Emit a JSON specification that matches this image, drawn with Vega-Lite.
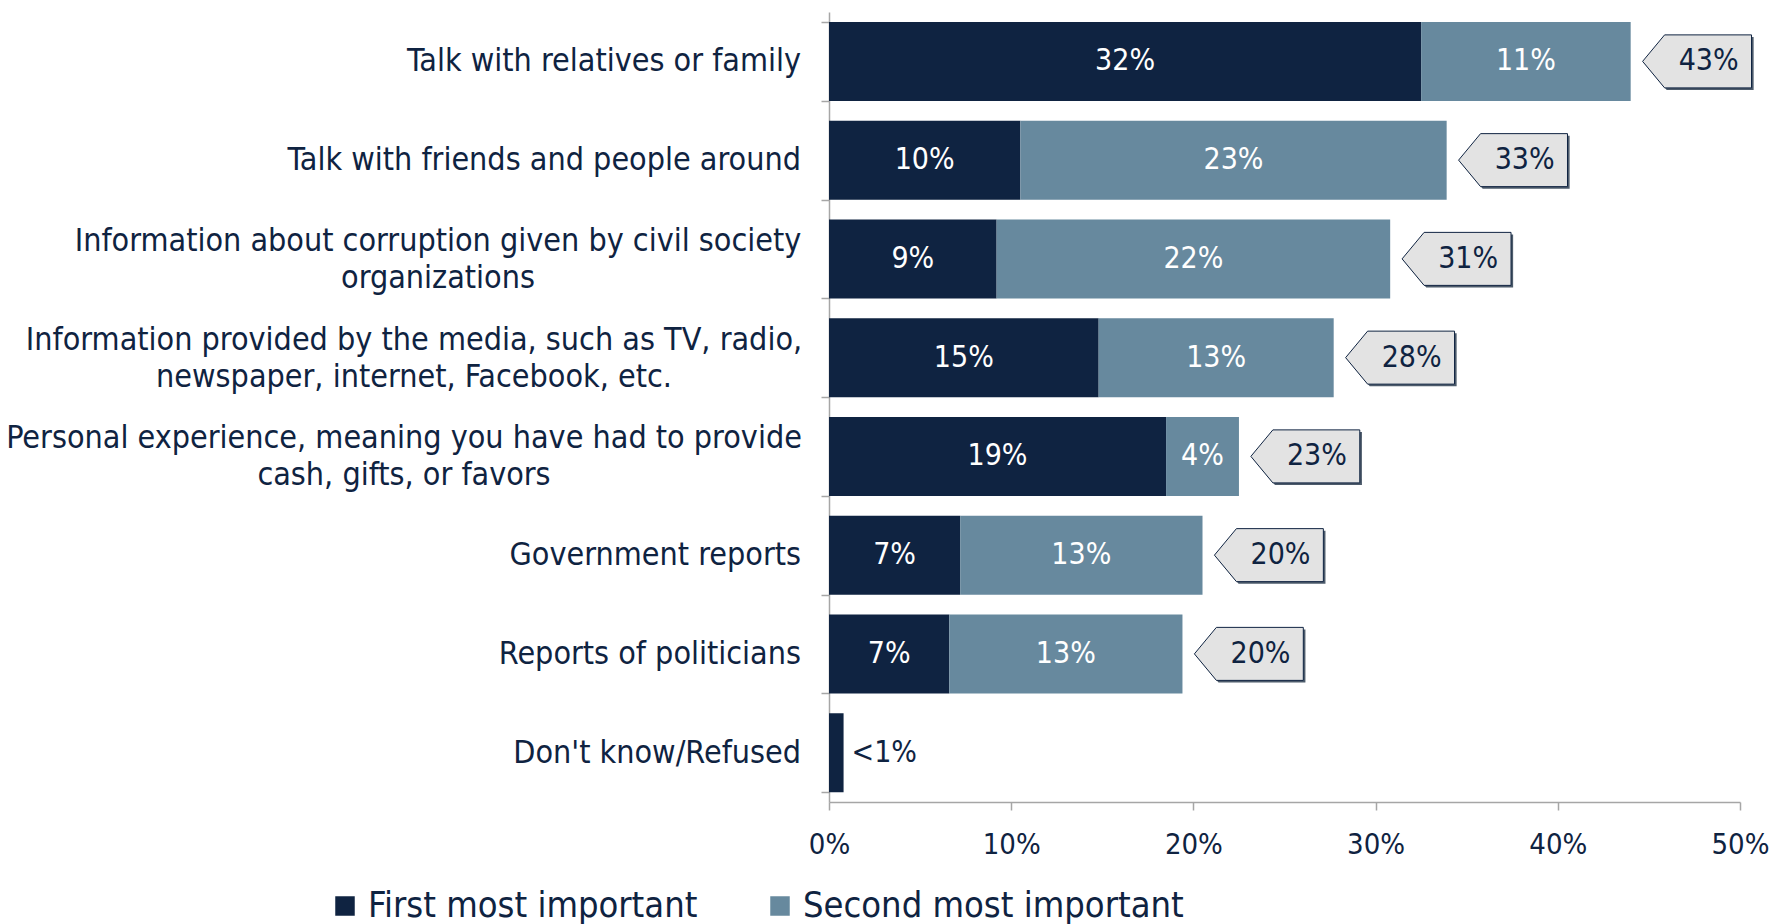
{
  "$schema": "https://vega.github.io/schema/vega-lite/v6.json",
  "width": 911,
  "height": 790,
  "autosize": {"type": "none"},
  "padding": {"left": 829, "top": 12, "right": 34, "bottom": 122},
  "background": "white",
  "config": {
    "view": {"stroke": null},
    "font": "DejaVu Sans Condensed",
    "text": {"font": "DejaVu Sans Condensed"}
  },
  "resolve": {"axis": {"y": "independent"}},
  "data": {
    "values": [
      {"category": "Talk with relatives or family", "series": "First most important", "value": 32.5, "label": "32%", "total": "43%"},
      {"category": "Talk with relatives or family", "series": "Second most important", "value": 11.5, "label": "11%", "total": "43%"},
      {"category": "Talk with friends and people around", "series": "First most important", "value": 10.5, "label": "10%", "total": "33%"},
      {"category": "Talk with friends and people around", "series": "Second most important", "value": 23.4, "label": "23%", "total": "33%"},
      {"category": "Information about corruption given by civil society organizations", "series": "First most important", "value": 9.2, "label": "9%", "total": "31%"},
      {"category": "Information about corruption given by civil society organizations", "series": "Second most important", "value": 21.6, "label": "22%", "total": "31%"},
      {"category": "Information provided by the media, such as TV, radio, newspaper, internet, Facebook, etc.", "series": "First most important", "value": 14.8, "label": "15%", "total": "28%"},
      {"category": "Information provided by the media, such as TV, radio, newspaper, internet, Facebook, etc.", "series": "Second most important", "value": 12.9, "label": "13%", "total": "28%"},
      {"category": "Personal experience, meaning you have had to provide cash, gifts, or favors", "series": "First most important", "value": 18.5, "label": "19%", "total": "23%"},
      {"category": "Personal experience, meaning you have had to provide cash, gifts, or favors", "series": "Second most important", "value": 4.0, "label": "4%", "total": "23%"},
      {"category": "Government reports", "series": "First most important", "value": 7.2, "label": "7%", "total": "20%"},
      {"category": "Government reports", "series": "Second most important", "value": 13.3, "label": "13%", "total": "20%"},
      {"category": "Reports of politicians", "series": "First most important", "value": 6.6, "label": "7%", "total": "20%"},
      {"category": "Reports of politicians", "series": "Second most important", "value": 12.8, "label": "13%", "total": "20%"},
      {"category": "Don't know/Refused", "series": "First most important", "value": 0.8, "label": "<1%", "total": ""}
    ]
  },
  "layer": [
    {
      "mark": {"type": "bar"},
      "encoding": {
        "y": {
          "field": "category",
          "type": "nominal",
          "sort": [
            "Talk with relatives or family",
            "Talk with friends and people around",
            "Information about corruption given by civil society organizations",
            "Information provided by the media, such as TV, radio, newspaper, internet, Facebook, etc.",
            "Personal experience, meaning you have had to provide cash, gifts, or favors",
            "Government reports",
            "Reports of politicians",
            "Don't know/Refused"
          ],
          "scale": {"paddingInner": 0.2, "paddingOuter": 0.1},
          "axis": {
            "title": null,
            "tickBand": "extent",
            "tickSize": 8,
            "tickColor": "#a6a6a6",
            "tickWidth": 1.5,
            "domainColor": "#a6a6a6",
            "domainWidth": 1.5,
            "labels": false
          }
        },
        "x": {
          "field": "value",
          "type": "quantitative",
          "stack": "zero",
          "scale": {"domain": [0, 50], "nice": false},
          "axis": {
            "title": null,
            "values": [0, 10, 20, 30, 40, 50],
            "labelExpr": "datum.value + '%'",
            "grid": false,
            "domainColor": "#a6a6a6",
            "domainWidth": 1.5,
            "tickColor": "#a6a6a6",
            "tickWidth": 1.5,
            "tickSize": 8,
            "labelFontSize": 29,
            "labelColor": "#0f2341",
            "labelPadding": 20,
            "labelFlush": false,
            "labelOverlap": false
          }
        },
        "color": {
          "field": "series",
          "type": "nominal",
          "scale": {"domain": ["First most important", "Second most important"], "range": ["#0f2341", "#67899e"]},
          "legend": {
            "orient": "none",
            "legendX": -502,
            "legendY": 876,
            "direction": "horizontal",
            "title": null,
            "symbolType": "square",
            "symbolSize": 380,
            "symbolStrokeWidth": 0,
            "labelFontSize": 36,
            "labelColor": "#0f2341",
            "labelLimit": 700,
            "labelOffset": 5,
            "columnPadding": 64
          }
        },
        "order": {"field": "series", "type": "nominal"}
      }
    },
    {
      "transform": [{"filter": {"field": "series", "equal": "First most important"}}],
      "mark": {
        "type": "text",
        "fontSize": 32,
        "color": "#0f2341",
        "baseline": "middle",
        "lineHeight": 37,
        "align": {"expr": "indexof(['Information about corruption given by civil society organizations', 'Information provided by the media, such as TV, radio, newspaper, internet, Facebook, etc.', 'Personal experience, meaning you have had to provide cash, gifts, or favors'], datum.category) >= 0 ? 'center' : 'right'"},
        "dx": {"expr": "datum.category == 'Information about corruption given by civil society organizations' ? -391 : datum.category == 'Information provided by the media, such as TV, radio, newspaper, internet, Facebook, etc.' ? -415 : datum.category == 'Personal experience, meaning you have had to provide cash, gifts, or favors' ? -425 : -28"},
        "dy": {"expr": "indexof(['Information about corruption given by civil society organizations', 'Information provided by the media, such as TV, radio, newspaper, internet, Facebook, etc.', 'Personal experience, meaning you have had to provide cash, gifts, or favors'], datum.category) >= 0 ? -18 : 0"},
        "text": {"expr": "datum.category == 'Information about corruption given by civil society organizations' ? ['Information about corruption given by civil society', 'organizations'] : datum.category == 'Information provided by the media, such as TV, radio, newspaper, internet, Facebook, etc.' ? ['Information provided by the media, such as TV, radio,', 'newspaper, internet, Facebook, etc.'] : datum.category == 'Personal experience, meaning you have had to provide cash, gifts, or favors' ? ['Personal experience, meaning you have had to provide', 'cash, gifts, or favors'] : datum.category"}
      },
      "encoding": {
        "y": {"field": "category", "type": "nominal", "axis": null, "sort": [
            "Talk with relatives or family",
            "Talk with friends and people around",
            "Information about corruption given by civil society organizations",
            "Information provided by the media, such as TV, radio, newspaper, internet, Facebook, etc.",
            "Personal experience, meaning you have had to provide cash, gifts, or favors",
            "Government reports",
            "Reports of politicians",
            "Don't know/Refused"
          ]},
        "x": {"datum": 0, "type": "quantitative"}
      }
    },
    {
      "transform": [{"filter": {"not": {"field": "category", "equal": "Don't know/Refused"}}}],
      "mark": {"type": "text", "fontSize": 30, "color": "white", "align": "center", "baseline": "middle"},
      "encoding": {
        "y": {"field": "category", "type": "nominal", "axis": null, "sort": [
            "Talk with relatives or family",
            "Talk with friends and people around",
            "Information about corruption given by civil society organizations",
            "Information provided by the media, such as TV, radio, newspaper, internet, Facebook, etc.",
            "Personal experience, meaning you have had to provide cash, gifts, or favors",
            "Government reports",
            "Reports of politicians",
            "Don't know/Refused"
          ]},
        "x": {"field": "value", "type": "quantitative", "stack": "zero", "bandPosition": 0.5},
        "detail": {"field": "series", "type": "nominal"},
        "order": {"field": "series", "type": "nominal"},
        "text": {"field": "label"}
      }
    },
    {
      "transform": [{"filter": {"field": "category", "equal": "Don't know/Refused"}}],
      "mark": {"type": "text", "fontSize": 30, "color": "#0f2341", "align": "left", "baseline": "middle", "dx": 8},
      "encoding": {
        "y": {"field": "category", "type": "nominal", "axis": null, "sort": [
            "Talk with relatives or family",
            "Talk with friends and people around",
            "Information about corruption given by civil society organizations",
            "Information provided by the media, such as TV, radio, newspaper, internet, Facebook, etc.",
            "Personal experience, meaning you have had to provide cash, gifts, or favors",
            "Government reports",
            "Reports of politicians",
            "Don't know/Refused"
          ]},
        "x": {"field": "value", "type": "quantitative"},
        "text": {"field": "label"}
      }
    },
    {
      "transform": [
        {"filter": {"not": {"field": "category", "equal": "Don't know/Refused"}}},
        {"aggregate": [{"op": "sum", "field": "value", "as": "end"}], "groupby": ["category", "total"]}
      ],
      "mark": {"type": "point", "shape": "M0.53,0.08 L1.36,-0.92 L4.64,-0.92 L4.64,1.08 L1.36,1.08 Z", "size": 2809, "filled": true, "fill": "#4d5b6b", "opacity": 1, "strokeWidth": 0},
      "encoding": {
        "y": {"field": "category", "type": "nominal", "axis": null, "sort": [
            "Talk with relatives or family",
            "Talk with friends and people around",
            "Information about corruption given by civil society organizations",
            "Information provided by the media, such as TV, radio, newspaper, internet, Facebook, etc.",
            "Personal experience, meaning you have had to provide cash, gifts, or favors",
            "Government reports",
            "Reports of politicians",
            "Don't know/Refused"
          ]},
        "x": {"field": "end", "type": "quantitative"}
      }
    },
    {
      "transform": [
        {"filter": {"not": {"field": "category", "equal": "Don't know/Refused"}}},
        {"aggregate": [{"op": "sum", "field": "value", "as": "end"}], "groupby": ["category", "total"]}
      ],
      "mark": {"type": "point", "shape": "M0.45,0 L1.28,-1 L4.56,-1 L4.56,1 L1.28,1 Z", "size": 2809, "filled": true, "fill": "#e3e3e3", "stroke": "#0f2341", "strokeWidth": 1, "opacity": 1},
      "encoding": {
        "y": {"field": "category", "type": "nominal", "axis": null, "sort": [
            "Talk with relatives or family",
            "Talk with friends and people around",
            "Information about corruption given by civil society organizations",
            "Information provided by the media, such as TV, radio, newspaper, internet, Facebook, etc.",
            "Personal experience, meaning you have had to provide cash, gifts, or favors",
            "Government reports",
            "Reports of politicians",
            "Don't know/Refused"
          ]},
        "x": {"field": "end", "type": "quantitative"}
      }
    },
    {
      "transform": [
        {"filter": {"not": {"field": "category", "equal": "Don't know/Refused"}}},
        {"aggregate": [{"op": "sum", "field": "value", "as": "end"}], "groupby": ["category", "total"]}
      ],
      "mark": {"type": "text", "fontSize": 30, "color": "#0f2341", "align": "center", "baseline": "middle", "dx": 78},
      "encoding": {
        "y": {"field": "category", "type": "nominal", "axis": null, "sort": [
            "Talk with relatives or family",
            "Talk with friends and people around",
            "Information about corruption given by civil society organizations",
            "Information provided by the media, such as TV, radio, newspaper, internet, Facebook, etc.",
            "Personal experience, meaning you have had to provide cash, gifts, or favors",
            "Government reports",
            "Reports of politicians",
            "Don't know/Refused"
          ]},
        "x": {"field": "end", "type": "quantitative"},
        "text": {"field": "total"}
      }
    }
  ]
}
